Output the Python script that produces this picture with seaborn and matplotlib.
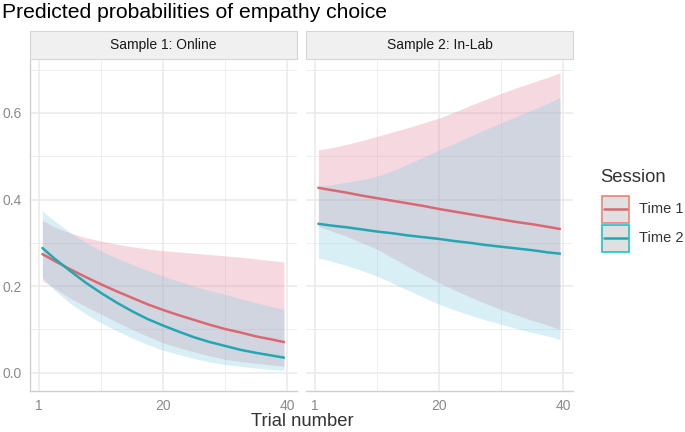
import numpy as np
import pandas as pd
import seaborn as sns
import matplotlib.pyplot as plt
from matplotlib.patches import Rectangle
from matplotlib.lines import Line2D

trial = [0.5, 2.5, 5, 7.5, 10, 12.5, 15, 17.5, 20, 22.5, 25, 27.5, 30, 32.5, 35, 37.5, 39.5]

# Sample 1: Online
online_t1 = [0.274, 0.258, 0.239, 0.221, 0.204, 0.188, 0.173, 0.158, 0.145,
             0.133, 0.122, 0.111, 0.101, 0.093, 0.084, 0.077, 0.071]
online_t1_lo = [0.213, 0.195, 0.172, 0.153, 0.135, 0.117, 0.100, 0.084, 0.069,
                0.058, 0.048, 0.039, 0.031, 0.026, 0.022, 0.018, 0.015]
online_t1_hi = [0.352, 0.336, 0.323, 0.312, 0.304, 0.297, 0.291, 0.286, 0.282,
                0.279, 0.276, 0.273, 0.270, 0.267, 0.263, 0.259, 0.256]
online_t2 = [0.288, 0.263, 0.235, 0.208, 0.184, 0.162, 0.142, 0.124, 0.109,
             0.095, 0.082, 0.071, 0.062, 0.053, 0.046, 0.040, 0.035]
online_t2_lo = [0.220, 0.190, 0.160, 0.136, 0.115, 0.097, 0.080, 0.065, 0.052,
                0.042, 0.033, 0.025, 0.019, 0.015, 0.011, 0.008, 0.006]
online_t2_hi = [0.373, 0.350, 0.324, 0.301, 0.281, 0.265, 0.250, 0.236, 0.223,
                0.211, 0.200, 0.190, 0.181, 0.171, 0.162, 0.153, 0.146]

# Sample 2: In-Lab
lab_t1 = [0.427, 0.422, 0.416, 0.409, 0.403, 0.397, 0.391, 0.385, 0.378,
          0.372, 0.366, 0.360, 0.354, 0.348, 0.343, 0.337, 0.332]
lab_t1_lo = [0.338, 0.328, 0.315, 0.300, 0.285, 0.265, 0.245, 0.226, 0.208,
             0.191, 0.175, 0.160, 0.146, 0.133, 0.121, 0.110, 0.100]
lab_t1_hi = [0.515, 0.519, 0.527, 0.536, 0.546, 0.556, 0.566, 0.577, 0.588,
             0.602, 0.617, 0.631, 0.645, 0.658, 0.670, 0.682, 0.692]
lab_t2 = [0.344, 0.340, 0.336, 0.331, 0.326, 0.322, 0.317, 0.313, 0.309,
          0.304, 0.300, 0.295, 0.291, 0.287, 0.283, 0.278, 0.275]
lab_t2_lo = [0.265, 0.258, 0.248, 0.236, 0.223, 0.207, 0.190, 0.174, 0.158,
             0.145, 0.133, 0.122, 0.112, 0.102, 0.093, 0.085, 0.077]
lab_t2_hi = [0.431, 0.434, 0.440, 0.446, 0.454, 0.467, 0.482, 0.498, 0.515,
             0.530, 0.546, 0.562, 0.577, 0.592, 0.607, 0.622, 0.635]

panels = ["Sample 1: Online", "Sample 2: In-Lab"]
sessions = ["Time 1", "Time 2"]
line_colors = {"Time 1": "#DA6870", "Time 2": "#22A7B3"}
fill_colors = {"Time 1": "#E4849A", "Time 2": "#7DCDE1"}
edge_colors = {"Time 1": "#F28077", "Time 2": "#1CC3C9"}

rows = []
series = {
    ("Sample 1: Online", "Time 1"): (online_t1, online_t1_lo, online_t1_hi),
    ("Sample 1: Online", "Time 2"): (online_t2, online_t2_lo, online_t2_hi),
    ("Sample 2: In-Lab", "Time 1"): (lab_t1, lab_t1_lo, lab_t1_hi),
    ("Sample 2: In-Lab", "Time 2"): (lab_t2, lab_t2_lo, lab_t2_hi),
}
for (p, s), (fit, lo, hi) in series.items():
    for x, f, l, h in zip(trial, fit, lo, hi):
        rows.append({"sample": p, "Session": s, "trial": x, "fit": f, "lo": l, "hi": h})
df = pd.DataFrame(rows)

sns.set_theme(style="white")
plt.rcParams['font.family'] = ['Liberation Sans', 'DejaVu Sans']

W, H = 685, 432
fig = plt.figure(figsize=(W / 100, H / 100), dpi=100)

panel_left = [30, 306]
panel_w = 267
panel_top, panel_bot = 60, 391
grid_col = "#EBEBEB"
tick_col = "#8A8A8A"

for i, p in enumerate(panels):
    ax = fig.add_axes([panel_left[i] / W, 1 - panel_bot / H, panel_w / W, (panel_bot - panel_top) / H])
    sub = df[df["sample"] == p]
    for s in sessions:
        d = sub[sub["Session"] == s]
        ax.fill_between(d["trial"], d["lo"], d["hi"], color=fill_colors[s], alpha=0.3, linewidth=0)
    sns.lineplot(data=sub, x="trial", y="fit", hue="Session", palette=line_colors,
                 linewidth=1.8, ax=ax, legend=False)
    ax.set_xlim(-1.5, 41.6)
    ax.set_ylim(-0.042, 0.722)
    ax.set_xticks([0, 20, 40])
    ax.set_xticklabels(["1", "20", "40"])
    ax.set_xticks([10, 30], minor=True)
    ax.set_yticks([0.0, 0.2, 0.4, 0.6])
    ax.set_yticks([0.1, 0.3, 0.5, 0.7], minor=True)
    ax.grid(True, which="major", color=grid_col, linewidth=1.2)
    ax.grid(True, which="minor", color=grid_col, linewidth=0.6)
    ax.set_axisbelow(True)
    ax.set_xlabel("")
    ax.set_ylabel("")
    ax.tick_params(axis="both", which="both", length=0, colors=tick_col, labelsize=10, pad=6)
    if i == 0:
        ax.set_yticklabels(["0.0", "0.2", "0.4", "0.6"])
    else:
        ax.set_yticklabels([])
    for side in ["top", "right"]:
        ax.spines[side].set_visible(False)
    ax.spines["left"].set_visible(i == 0)
    ax.spines["left"].set_color("#D0D0D0")
    ax.spines["bottom"].set_color("#D0D0D0")
    ax.spines["left"].set_linewidth(1.0)
    ax.spines["bottom"].set_linewidth(1.0)

    # facet strip
    sx = panel_left[i] / W
    fig.add_artist(Rectangle((sx, 1 - 59 / H), panel_w / W, 28 / H, transform=fig.transFigure,
                             facecolor="#F0F0F0", edgecolor="#D6D6D6", linewidth=0.8))
    fig.text(sx + panel_w / W / 2, 1 - 45.5 / H, p, ha="center", va="center",
             fontsize=10, color="#1A1A1A")

fig.text(2 / W, 1 - 13 / H, "Predicted probabilities of empathy choice", ha="left", va="center",
         fontsize=15.2, color="#000000")
fig.text(302 / W, 1 - 421.5 / H, "Trial number", ha="center", va="center",
         fontsize=13.2, color="#333333")

# legend drawn by hand, ggplot style keys
fig.text(600 / W, 1 - 177 / H, "Session", ha="left", va="center", fontsize=13.3, color="#333333")
key_x, key_w, key_h = 602, 27, 27
key_tops = [195.5, 224.5]
for s, top in zip(sessions, key_tops):
    fig.add_artist(Rectangle((key_x / W, 1 - (top + key_h) / H), key_w / W, key_h / H,
                             transform=fig.transFigure, facecolor="#E0E0E0",
                             edgecolor=edge_colors[s], linewidth=1.2))
    cy = 1 - (top + key_h / 2) / H
    fig.add_artist(Line2D([(key_x + 2) / W, (key_x + key_w - 2) / W], [cy, cy],
                          transform=fig.transFigure, color=line_colors[s], linewidth=1.8))
    fig.text(639 / W, cy, s, ha="left", va="center", fontsize=10.5, color="#333333")

fig.savefig("out.png", dpi=100)
